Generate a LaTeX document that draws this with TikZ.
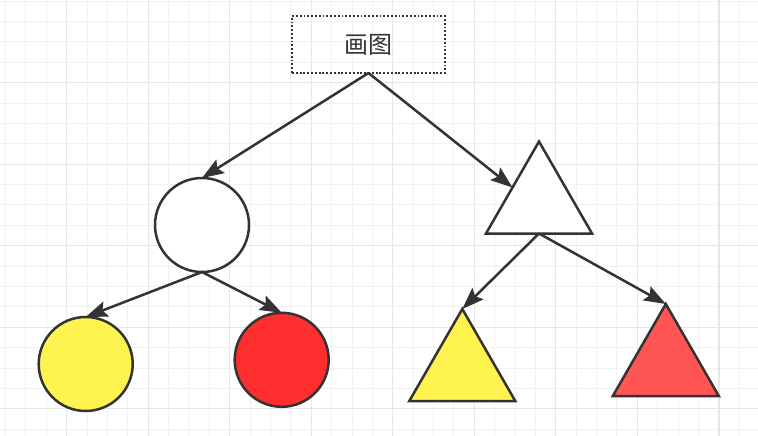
\documentclass[tikz,border=0pt]{standalone}
\usepackage{fontspec}
\newfontfamily\cjkfont{Noto Sans CJK SC}
\usetikzlibrary{shapes.geometric,arrows.meta,calc}
\definecolor{inkline}{HTML}{333333}
\definecolor{gridminor}{HTML}{F1F1F1}
\definecolor{gridmajor}{HTML}{E6E6E6}
\definecolor{sunyellow}{HTML}{FFF34F}
\definecolor{brightred}{HTML}{FF2E2E}
\definecolor{softred}{HTML}{FF5555}
\begin{document}
\begin{tikzpicture}[x=1pt,y=-1pt,
  shapeline/.style={draw=inkline, line width=2.5pt},
  ball/.style={shapeline, circle, minimum size=94pt, inner sep=0pt, outer sep=0pt},
  tri/.style={shapeline, isosceles triangle, isosceles triangle stretches,
    shape border rotate=90, minimum width=106pt, minimum height=92pt,
    inner sep=0pt, outer sep=0pt, anchor=apex},
  titlebox/.style={draw=inkline, line width=2.2pt, dash pattern=on 1.9pt off 1.9pt,
    minimum width=153pt, minimum height=57pt, inner sep=0pt, outer sep=0pt,
    font=\cjkfont\fontsize{24}{24}\selectfont, text=inkline},
  link/.style={draw=inkline, line width=2.5pt,
    -{Stealth[length=22pt,width=16pt,inset=4pt,line width=1.5pt]}}]

% page background and grid
\fill[white] (0,0) rectangle (758,436);
\useasboundingbox (0,0) rectangle (758,436);
\foreach \i in {0,...,36}
  \draw[gridminor, line width=1pt] ({5.56+20.38*\i},0) -- ++(0,436);
\foreach \i in {0,...,21}
  \draw[gridminor, line width=1pt] (0,{1.18+20.38*\i}) -- ++(758,0);
\foreach \i in {0,...,8}
  \draw[gridmajor, line width=1.3pt] ({66.7+81.52*\i},0) -- ++(0,436);
\foreach \i in {0,...,4}
  \draw[gridmajor, line width=1.3pt] (0,{82.7+81.52*\i}) -- ++(758,0);

% shapes
\node[titlebox] (root) at (368.5,44.5) {画图};
\node[ball, fill=white] (wc) at (202,225) {};
\node[ball, fill=sunyellow] (yc) at (85.7,364) {};
\node[ball, fill=brightred] (rc) at (281.7,359.8) {};
\node[tri, fill=white] (wt) at (539,141.5) {};
\node[tri, fill=sunyellow] (yt) at (462.3,309) {};
\node[tri, fill=softred] (rt) at (665.8,304) {};

% connectors
\draw[link] (root.south) -- (wc.north);
\draw[link] (root.south) -- ($(wt.apex)!0.5!(wt.left corner)$);
\draw[link] (wc.south) -- (yc.north);
\draw[link] (wc.south) -- (rc.north);
\draw[link] ($(wt.left corner)!0.5!(wt.right corner)$) -- (yt.apex);
\draw[link] ($(wt.left corner)!0.5!(wt.right corner)$) -- (rt.apex);
\end{tikzpicture}
\end{document}
